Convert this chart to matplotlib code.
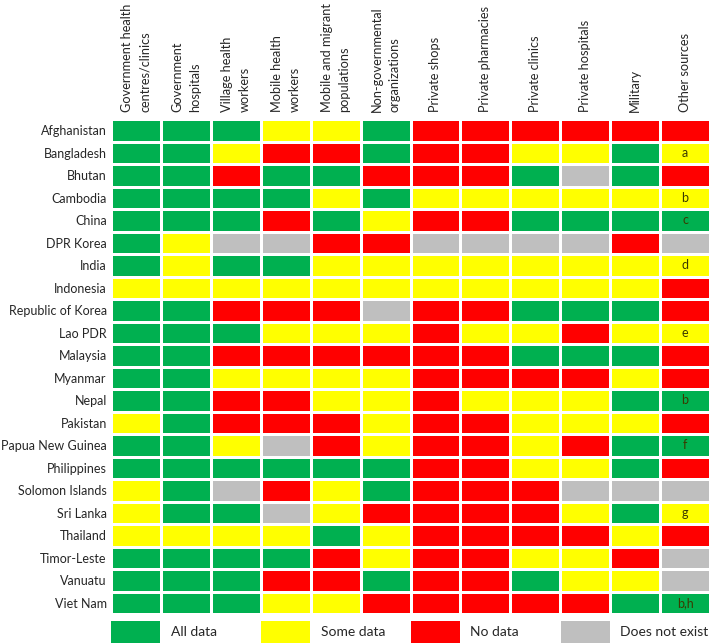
import numpy as np
import matplotlib
matplotlib.use('Agg')
import matplotlib.pyplot as plt
from matplotlib.colors import ListedColormap
from matplotlib.patches import Rectangle

plt.rcParams['font.family'] = ['Lato', 'DejaVu Sans']

# Data: G = all data, Y = some data, R = no data, X = does not exist
columns = ['Government health\ncentres/clinics', 'Government\nhospitals',
           'Village health\nworkers', 'Mobile health\nworkers',
           'Mobile and migrant\npopulations', 'Non-governmental\norganizations',
           'Private shops', 'Private pharmacies', 'Private clinics',
           'Private hospitals', 'Military', 'Other sources']

countries = ['Afghanistan', 'Bangladesh', 'Bhutan', 'Cambodia', 'China',
             'DPR Korea', 'India', 'Indonesia', 'Republic of Korea', 'Lao PDR',
             'Malaysia', 'Myanmar', 'Nepal', 'Pakistan', 'Papua New Guinea',
             'Philippines', 'Solomon Islands', 'Sri Lanka', 'Thailand',
             'Timor-Leste', 'Vanuatu', 'Viet Nam']

status = [
    'GGGYYGRRRRRR',  # Afghanistan
    'GGYRRGRRYYGY',  # Bangladesh
    'GGRGGRRRGXGR',  # Bhutan
    'GGGGYGYYYYYY',  # Cambodia
    'GGGRGYRRGGGG',  # China
    'GYXXRRXXXXRX',  # DPR Korea
    'GYGGYYYYYYYY',  # India
    'YYYYYYYYYYYR',  # Indonesia
    'GGRRRXRRGGGR',  # Republic of Korea
    'GGGYYYRYYRYY',  # Lao PDR
    'GGRRRRRRGGGR',  # Malaysia
    'GGYYYYRRRRYR',  # Myanmar
    'GGRRYYRYYYGG',  # Nepal
    'YGRRRYRRYYYR',  # Pakistan
    'GGYXRYRRYRGG',  # Papua New Guinea
    'GGGGGGRRYYGR',  # Philippines
    'YGXRYGRRRXXX',  # Solomon Islands
    'YGGXYRRRRYGY',  # Sri Lanka
    'YYYYGYRRRRYR',  # Thailand
    'GGGGRYRRYYRX',  # Timor-Leste
    'GGGRRGRRGYYX',  # Vanuatu
    'GGGYYRRRRRGG',  # Viet Nam
]

other_notes = {'Bangladesh': 'a', 'Cambodia': 'b', 'China': 'c', 'India': 'd',
               'Lao PDR': 'e', 'Nepal': 'b', 'Papua New Guinea': 'f',
               'Sri Lanka': 'g', 'Viet Nam': 'b,h'}

codes = ['G', 'Y', 'R', 'X']
legend_labels = ['All data', 'Some data', 'No data', 'Does not exist']
colors = ['#00B050', '#FFFF00', '#FF0000', '#BFBFBF']

grid = np.array([[codes.index(c) for c in row] for row in status])
n_rows, n_cols = grid.shape

W, H = 710, 643
fig = plt.figure(figsize=(W / 100, H / 100), dpi=100)

# main grid
ax = fig.add_axes([111 / W, 1 - 614 / H, (W - 111) / W, (614 - 119) / H])
cmap = ListedColormap(colors)
ax.pcolormesh(np.arange(n_cols + 1) - 0.5, np.arange(n_rows + 1) - 0.5, grid,
              cmap=cmap, vmin=-0.5, vmax=3.5, edgecolors='white', linewidth=1.0)
ax.set_xlim(-0.5, n_cols - 0.5)
ax.set_ylim(n_rows - 0.5, -0.5)
for s in ax.spines.values():
    s.set_visible(False)

ax.set_yticks(range(n_rows))
ax.set_yticklabels(countries, fontsize=9, color='#262626')
ax.tick_params(axis='y', length=0, pad=3)
ax.set_xticks([])

# column headers
for j, name in enumerate(columns):
    ax.annotate(name, xy=(j, -0.5), xytext=(0, 5), textcoords='offset points',
                rotation=90, ha='center', va='bottom', multialignment='left',
                fontsize=9.2, color='#262626', linespacing=1.55)

# footnote letters in "Other sources"
for i, c in enumerate(countries):
    if c in other_notes:
        ax.text(n_cols - 1, i, other_notes[c], ha='center', va='center',
                fontsize=9, color='#3a3a00')

# legend row, aligned to the grid columns
lax = fig.add_axes([111 / W, 0, (W - 111) / W, (643 - 621) / H])
lax.set_xlim(-0.5, n_cols - 0.5)
lax.set_ylim(0, 1)
lax.axis('off')
for k, (lab, col) in enumerate(zip(legend_labels, colors)):
    x0 = 3 * k - 0.5
    lax.add_patch(Rectangle((x0 + 0.01, 0), 0.98, 1, facecolor=col, edgecolor='none'))
    lax.text(x0 + 1.2, 0.5, lab, ha='left', va='center', fontsize=10, color='#262626')

fig.savefig('out.png', dpi=100)
